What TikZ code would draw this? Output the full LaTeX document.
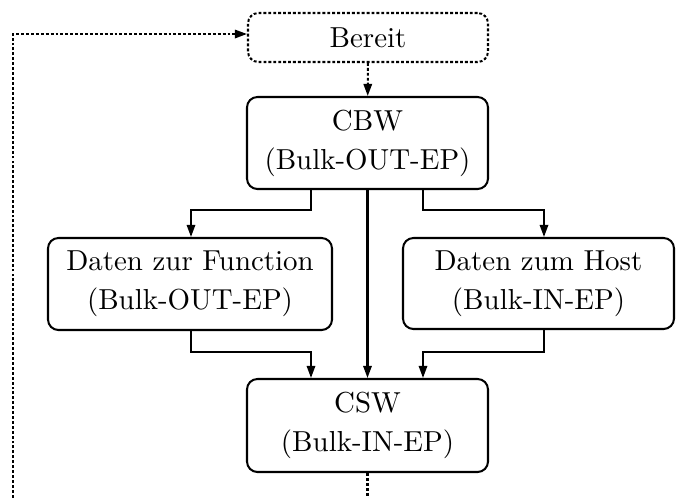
\documentclass[tikz,border=0pt]{standalone}
\usetikzlibrary{arrows.meta}
\newdimen\pxu
\pxu=0.346pt
\begin{document}
\begin{tikzpicture}[x=\pxu,y=\pxu,
  box/.style={draw,rounded corners=3.6pt,line width=0.7pt,align=center,inner sep=0pt},
  flow/.style={line width=0.7pt,-{Triangle[length=4.2pt,width=2.9pt]}},
  dots/.style={dash pattern=on 1pt off 0.7pt}]
\useasboundingbox (0,0) rectangle (676,497);
\node[box,dots,minimum width=240\pxu,minimum height=49\pxu] (bereit) at (368,459.5) {Bereit};
\node[box,minimum width=241\pxu,minimum height=92\pxu] (cbw) at (367.5,354) {CBW\\[1.5pt](Bulk-OUT-EP)};
\node[box,minimum width=284\pxu,minimum height=92\pxu] (dzf) at (190,213) {Daten zur Function\\[1.5pt](Bulk-OUT-EP)};
\node[box,minimum width=271\pxu,minimum height=91\pxu] (dzh) at (538.5,213.5) {Daten zum Host\\[1.5pt](Bulk-IN-EP)};
\node[box,minimum width=241\pxu,minimum height=93\pxu] (csw) at (367.5,71.5) {CSW\\[1.5pt](Bulk-IN-EP)};
\coordinate (bl) at (311,287);
\coordinate (br) at (423,287);
\coordinate (ml) at (191,145);
\coordinate (mr) at (544,145);
\coordinate (lb) at (13,-10);
\draw[flow,dots] (bereit) -- (cbw);
\draw[flow] (cbw.south -| bl) -- (bl) -| (dzf.north -| ml);
\draw[flow] (cbw.south -| br) -- (br) -| (dzh.north -| mr);
\draw[flow] (cbw) -- (csw);
\draw[flow] (dzf.south -| ml) |- (ml -| bl) -- (csw.north -| bl);
\draw[flow] (dzh.south -| mr) |- (mr -| br) -- (csw.north -| br);
\draw[flow,dots] (csw.south) |- (lb) |- ([yshift=3.5\pxu]bereit.west);
\end{tikzpicture}
\end{document}
